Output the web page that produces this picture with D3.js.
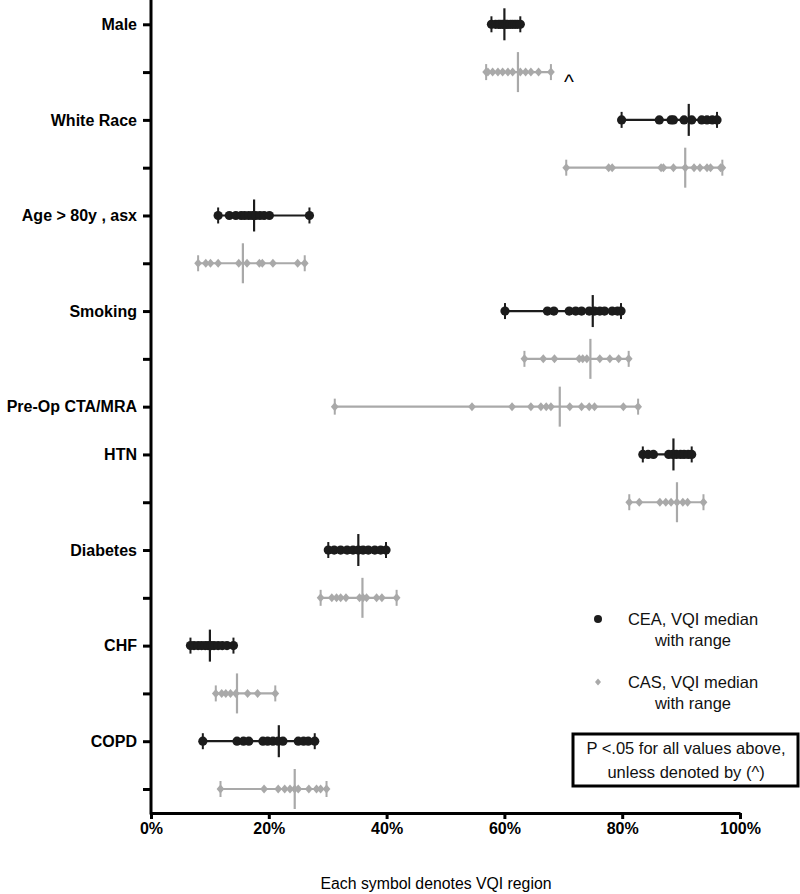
<!DOCTYPE html>
<html>
<head>
<meta charset="utf-8">
<script src="https://d3js.org/d3.v7.min.js"></script>
<style>
  body { margin: 0; background: white; font-family: "Liberation Sans", Arial, sans-serif; }
  .axis text { font-family: "Liberation Sans", Arial, sans-serif; font-weight: bold; font-size: 16px; fill: #000; }
  .axis line, .axis path { stroke: #000; stroke-width: 3px; }
</style>
</head>
<body>
<div id="chart"></div>
<script>
// categories, top to bottom
var categories = ["Male", "White Race", "Age > 80y , asx", "Smoking", "Pre-Op CTA/MRA", "HTN", "Diabetes", "CHF", "COPD"];

// CEA: one value per VQI region (percent); Pre-Op has no CEA row
var ceaValues = [
  [57.8, 58.5, 59.0, 59.3, 59.7, 60.0, 60.3, 60.6, 61.0, 61.4, 61.8, 62.2, 62.7],
  [79.9, 86.3, 88.3, 88.7, 90.5, 91.8, 93.5, 94.4, 95.3, 96.1],
  [11.4, 13.3, 14.4, 15.3, 15.9, 16.6, 17.2, 17.8, 18.5, 19.2, 20.1, 26.9],
  [60.1, 67.3, 68.4, 71.0, 72.1, 73.1, 74.4, 75.3, 76.2, 77.0, 78.3, 79.2, 79.8],
  null,
  [83.5, 84.4, 85.3, 87.9, 88.6, 89.2, 89.9, 90.5, 91.2, 91.8],
  [30.1, 31.1, 32.2, 33.3, 34.3, 35.2, 36.0, 36.9, 38.0, 39.0, 39.9],
  [6.7, 7.3, 8.0, 8.6, 9.2, 9.7, 10.2, 10.7, 11.4, 12.1, 12.9, 14.0],
  [8.8, 14.6, 15.7, 16.6, 19.0, 19.8, 20.7, 21.6, 22.4, 25.0, 25.9, 26.7, 27.8]
];
var ceaMedians = [60.0, 91.3, 17.5, 75.0, null, 88.7, 35.2, 10.0, 21.7];

// CAS
var casValues = [
  [56.9, 57.2, 58.0, 58.9, 59.7, 60.6, 61.4, 62.7, 63.6, 64.5, 65.8, 67.9],
  [70.5, 77.7, 78.3, 86.6, 87.0, 88.7, 90.7, 92.2, 93.2, 94.4, 95.0, 96.7, 97.0],
  [8.0, 9.3, 10.1, 11.4, 14.9, 16.3, 18.4, 18.9, 20.7, 24.9, 26.1],
  [63.4, 66.6, 68.5, 72.7, 73.3, 74.0, 76.2, 77.9, 79.4, 81.1],
  [31.2, 54.5, 61.3, 64.5, 66.2, 67.1, 67.9, 71.1, 73.1, 74.4, 75.3, 80.2, 82.7],
  [81.2, 82.9, 86.4, 87.4, 88.3, 89.3, 90.3, 91.1, 93.8],
  [28.8, 30.7, 31.5, 32.2, 33.1, 35.4, 36.0, 36.6, 38.3, 39.2, 41.7],
  [11.0, 12.0, 12.7, 13.5, 14.4, 16.4, 18.1, 21.1],
  [11.8, 19.2, 21.6, 22.7, 23.6, 24.4, 25.0, 26.8, 28.1, 28.8, 29.8]
];
var casMedians = [62.3, 90.7, 15.6, 74.6, 69.4, 89.3, 35.9, 14.6, 24.4];

// rows not significant (marked ^)
var notSignificant = ["Male"];
var xTicks = [0, 20, 40, 60, 80, 100];

var legendLabels = [["CEA, VQI median", "with range"], ["CAS, VQI median", "with range"]];
var noteLines = ["P <.05 for all values above,", "unless denoted by (^)"];
var xTitle = "Each symbol denotes VQI region";

var colors = { CEA: "#1c1c1c", CAS: "#a9a9a9" };

var width = 800, height = 894;
var svg = d3.select("#chart").append("svg")
  .attr("width", width)
  .attr("height", height);

// build rows
var rows = [];
categories.forEach(function(c, i) {
  if (ceaValues[i]) {
    rows.push({ key: c + "|CEA", label: c, cat: c, group: "CEA", values: ceaValues[i], median: ceaMedians[i] });
  }
  rows.push({ key: c + "|CAS", label: ceaValues[i] ? "" : c, cat: c, group: "CAS", values: casValues[i], median: casMedians[i] });
});
var labelOf = {};
rows.forEach(function(r) { labelOf[r.key] = r.label; });

var axisY = 813;
var x = d3.scaleLinear().domain([0, 100]).range([151, 740]);
var y = d3.scalePoint().domain(rows.map(function(r) { return r.key; })).range([24.3, 789]);

// axes
var yAxis = svg.append("g").attr("class", "axis")
  .attr("transform", "translate(" + x(0) + ",0)")
  .call(d3.axisLeft(y).tickSize(8).tickSizeOuter(0).tickPadding(6)
    .tickFormat(function(k) { return labelOf[k]; }));
yAxis.select(".domain").remove();
yAxis.append("line").attr("x1", 0).attr("x2", 0).attr("y1", 0).attr("y2", axisY + 1.5);

var xAxis = svg.append("g").attr("class", "axis")
  .attr("transform", "translate(0," + axisY + ")")
  .call(d3.axisBottom(x).tickValues(xTicks).tickSize(6).tickSizeOuter(0).tickPadding(4)
    .tickFormat(function(d) { return d + "%"; }));

// marks
var diamond = function(s) {
  return "M0," + (-s * 1.15) + "L" + s + ",0L0," + (s * 1.15) + "L" + (-s) + ",0Z";
};

var rowG = svg.selectAll(".row").data(rows).enter().append("g")
  .attr("class", "row")
  .attr("transform", function(r) { return "translate(0," + y(r.key) + ")"; });

rowG.append("line")
  .attr("x1", function(r) { return x(d3.min(r.values)); })
  .attr("x2", function(r) { return x(d3.max(r.values)); })
  .attr("stroke", function(r) { return colors[r.group]; })
  .attr("stroke-width", 2.2);

rowG.each(function(r) {
  var g = d3.select(this);
  [d3.min(r.values), d3.max(r.values)].forEach(function(v) {
    g.append("line")
      .attr("x1", x(v)).attr("x2", x(v))
      .attr("y1", -8).attr("y2", 8)
      .attr("stroke", colors[r.group]).attr("stroke-width", 2);
  });
  if (r.group === "CEA") {
    g.selectAll("circle").data(r.values).enter().append("circle")
      .attr("cx", function(d) { return x(d); })
      .attr("r", 4.6)
      .attr("fill", colors.CEA);
  } else {
    g.selectAll("path.pt").data(r.values).enter().append("path")
      .attr("class", "pt")
      .attr("d", diamond(3.9))
      .attr("transform", function(d) { return "translate(" + x(d) + ",0)"; })
      .attr("fill", colors.CAS);
  }
  var mh = r.group === "CEA" ? 16 : 20;
  g.append("line")
    .attr("x1", x(r.median)).attr("x2", x(r.median))
    .attr("y1", -mh).attr("y2", mh)
    .attr("stroke", colors[r.group]).attr("stroke-width", 2.2);
});

// ^ marker
rows.filter(function(r) { return r.group === "CAS" && notSignificant.indexOf(r.cat) >= 0; })
  .forEach(function(r) {
    svg.append("text")
      .attr("x", x(d3.max(r.values)) + 13)
      .attr("y", y(r.key) + 17)
      .attr("font-size", "21px")
      .attr("fill", "#000")
      .text("^");
  });

// x title
svg.append("text")
  .attr("x", 436).attr("y", 889)
  .attr("text-anchor", "middle")
  .attr("font-size", "15.8px")
  .attr("fill", "#000")
  .text(xTitle);

// legend
var legend = svg.append("g");
legendLabels.forEach(function(lines, i) {
  var ly = 619 + i * 63;
  if (i === 0) {
    legend.append("circle").attr("cx", 598).attr("cy", ly).attr("r", 4).attr("fill", colors.CEA);
  } else {
    legend.append("path").attr("d", diamond(3)).attr("transform", "translate(598," + ly + ")").attr("fill", colors.CAS);
  }
  lines.forEach(function(t, j) {
    legend.append("text")
      .attr("x", 693).attr("y", ly + j * 21)
      .attr("dy", "0.35em")
      .attr("text-anchor", "middle")
      .attr("font-size", "16.5px")
      .attr("fill", "#111")
      .text(t);
  });
});

legend.append("rect")
  .attr("x", 573).attr("y", 734)
  .attr("width", 225).attr("height", 52)
  .attr("fill", "white").attr("stroke", "#000").attr("stroke-width", 3);
noteLines.forEach(function(t, j) {
  legend.append("text")
    .attr("x", 686).attr("y", 748 + j * 24)
    .attr("dy", "0.35em")
    .attr("text-anchor", "middle")
    .attr("font-size", "16.5px")
    .attr("fill", "#111")
    .text(t);
});
</script>
</body>
</html>
